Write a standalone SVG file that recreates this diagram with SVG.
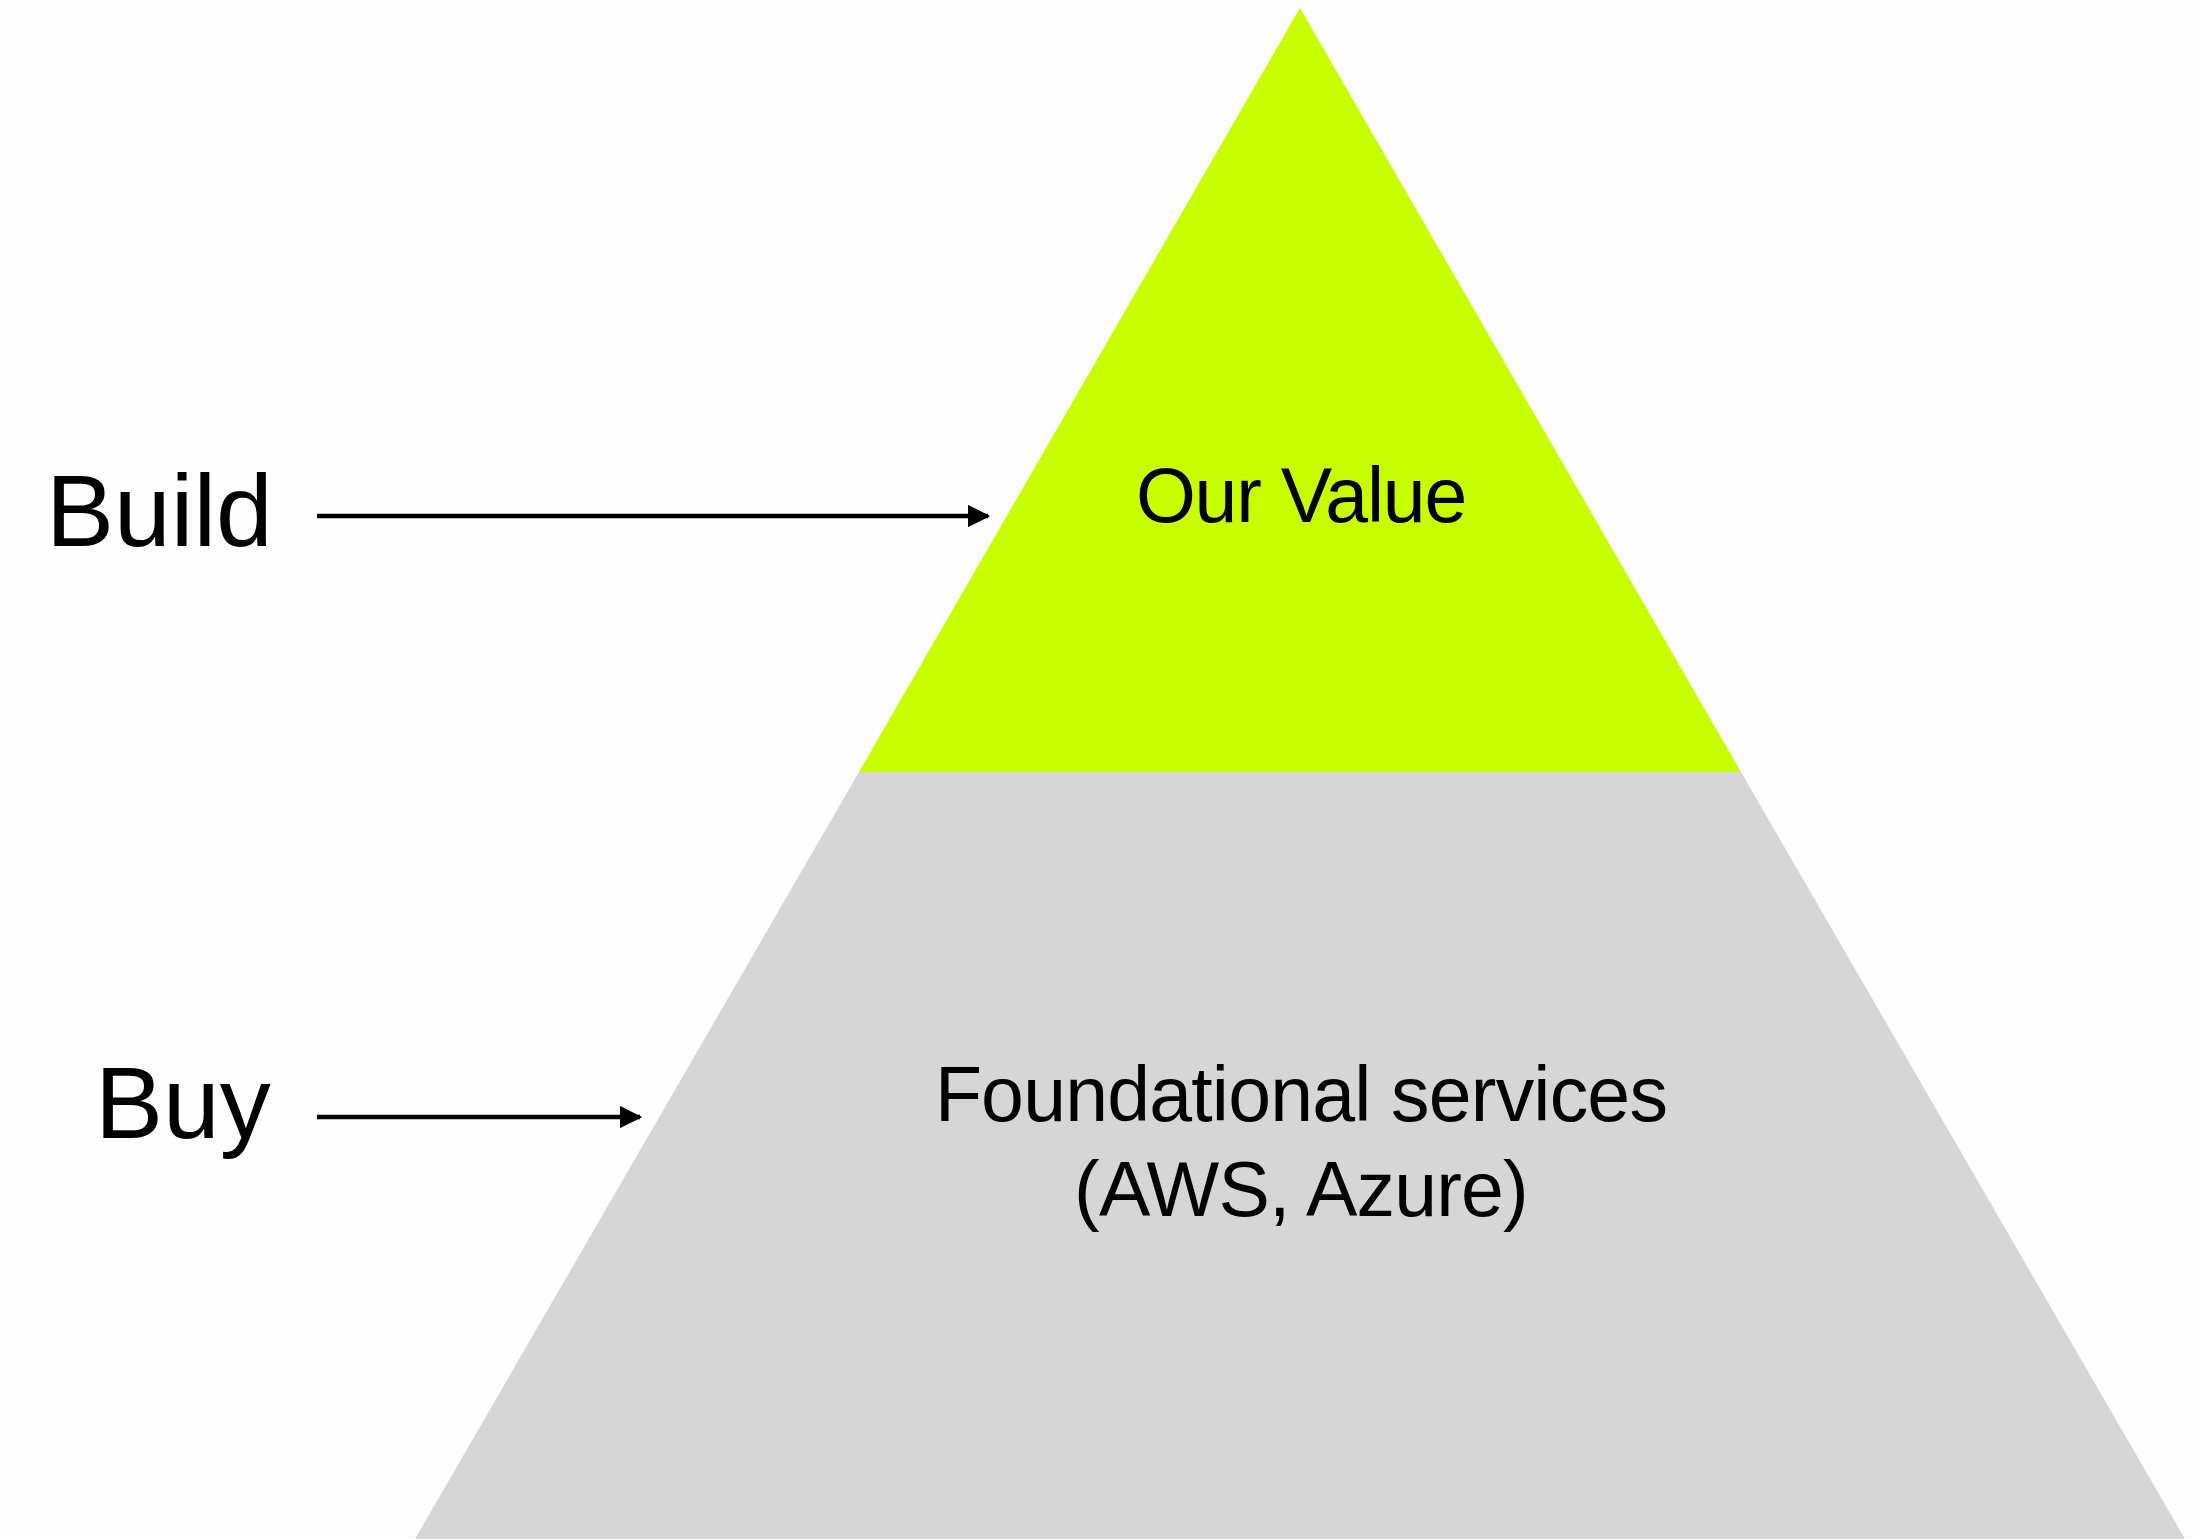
<svg xmlns="http://www.w3.org/2000/svg" width="2197" height="1539" viewBox="0 0 2197 1539">
<defs>
<style>
.lbl{font-family:"Liberation Sans",Arial,sans-serif;fill:#000;}
.side{font-size:102px;}
.inner{font-size:77px;text-anchor:middle;letter-spacing:-0.8px;}
.conn{stroke:#000;stroke-width:4.5;fill:none;}
</style>
<marker id="ah" viewBox="0 0 10 10" refX="9" refY="5" markerWidth="5" markerHeight="5" markerUnits="strokeWidth" orient="auto">
<path d="M0,0 L10,5 L0,10 Z" fill="#000"/>
</marker>
</defs>
<rect width="2197" height="1539" fill="#fefefe"/>
<g id="node-foundational">
<polygon points="859,772 1741,772 2185,1539 415,1539" fill="#d6d6d6"/>
<text class="lbl inner" x="1301" y="1121">Foundational services</text>
<text class="lbl inner" x="1301" y="1216">(AWS, Azure)</text>
</g>
<g id="node-value">
<polygon points="1300,8 1741,772 859,772" fill="#c8ff00"/>
<text class="lbl inner" x="1301" y="522" style="letter-spacing:-1.2px">Our Value</text>
</g>
<g id="node-build">
<text class="lbl side" x="46" y="546">Build</text>
</g>
<g id="node-buy">
<text class="lbl side" x="95" y="1138">Buy</text>
</g>
<g id="connectors">
<line class="conn" x1="317" y1="516" x2="988" y2="516" marker-end="url(#ah)"/>
<line class="conn" x1="317" y1="1117" x2="640" y2="1117" marker-end="url(#ah)"/>
</g>
</svg>
